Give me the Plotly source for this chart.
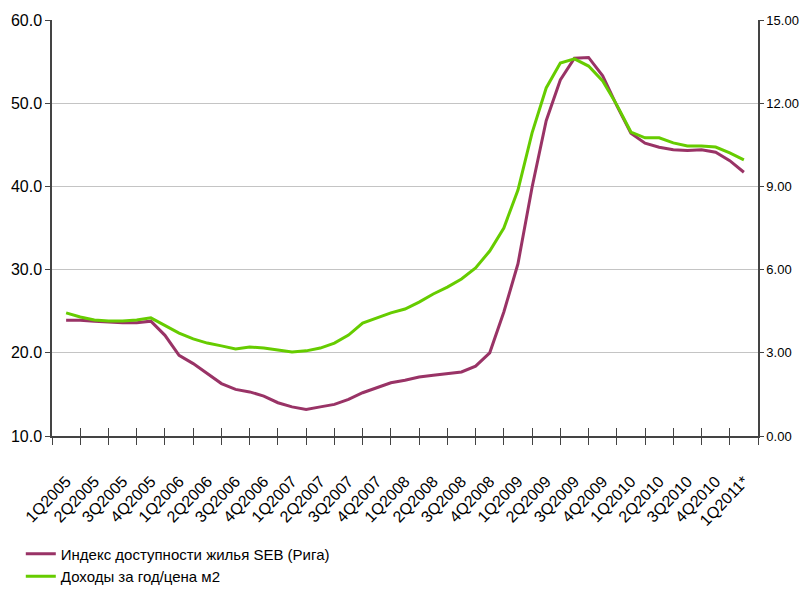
import plotly.graph_objects as go

quarters = ["1Q2005", "2Q2005", "3Q2005", "4Q2005", "1Q2006", "2Q2006", "3Q2006", "4Q2006",
            "1Q2007", "2Q2007", "3Q2007", "4Q2007", "1Q2008", "2Q2008", "3Q2008", "4Q2008",
            "1Q2009", "2Q2009", "3Q2009", "4Q2009", "1Q2010", "2Q2010", "3Q2010", "4Q2010",
            "1Q2011*"]

# readings every half quarter (0, 0.5, 1, ... 24 in category units)
index_seb = [23.9, 23.9, 23.8, 23.7, 23.6, 23.6, 23.8, 22.1, 19.7, 18.7,
             17.5, 16.3, 15.6, 15.3, 14.8, 14.0, 13.5, 13.2, 13.5, 13.8,
             14.4, 15.2, 15.8, 16.4, 16.7, 17.1, 17.3, 17.5, 17.7, 18.4,
             20.0, 24.9, 30.7, 39.9, 47.9, 52.8, 55.4, 55.5, 53.3, 49.7,
             46.4, 45.2, 44.7, 44.4, 44.3, 44.4, 44.1, 43.1, 41.7]

income_ratio = [4.44, 4.29, 4.18, 4.15, 4.15, 4.18, 4.26, 4.00, 3.71, 3.50,
                3.35, 3.25, 3.14, 3.21, 3.17, 3.10, 3.03, 3.07, 3.17, 3.35,
                3.64, 4.07, 4.26, 4.44, 4.58, 4.83, 5.12, 5.37, 5.66, 6.06,
                6.67, 7.50, 8.87, 10.93, 12.55, 13.45, 13.60, 13.34, 12.80, 11.94,
                10.96, 10.75, 10.75, 10.57, 10.46, 10.46, 10.42, 10.21, 9.96]

left_ticks = [10, 20, 30, 40, 50, 60]
right_ticks = [0, 3, 6, 9, 12, 15]

xpos = [i * 0.5 for i in range(len(index_seb))]
cat_pos = list(range(len(quarters)))
bounds = [i - 0.5 for i in range(len(quarters) + 1)]

name1 = "Индекс доступности жилья SEB (Рига)"
name2 = "Доходы за год/цена м2"

fig = go.Figure()
fig.add_trace(go.Scatter(x=xpos, y=index_seb, mode="lines", name=name1,
                         line=dict(color="#993366", width=3), yaxis="y"))
fig.add_trace(go.Scatter(x=xpos, y=income_ratio, mode="lines", name=name2,
                         line=dict(color="#66CC00", width=3), yaxis="y2"))
# helper trace to carry the inner tick marks axis
fig.add_trace(go.Scatter(x=[bounds[0]], y=[10], mode="lines", xaxis="x2", yaxis="y",
                         showlegend=False, hoverinfo="skip", line=dict(width=0)))

font_main = "Liberation Sans, Arial, sans-serif"
axis_col = "#444444"

fig.update_layout(
    width=800, height=592,
    margin=dict(l=52, r=42, t=20, b=156, autoexpand=False),
    paper_bgcolor="white", plot_bgcolor="white",
    font=dict(family=font_main, color="#000000", size=15),
    xaxis=dict(range=[-0.5, 24.5], tickvals=cat_pos, ticktext=quarters, tickangle=-46,
               ticks="", showgrid=False, zeroline=False, automargin=False,
               ticklabelstandoff=28,
               showline=True, linecolor=axis_col, linewidth=1.5,
               tickfont=dict(size=16, family=font_main),
               minor=dict(tickvals=bounds, ticks="outside", ticklen=7,
                          tickcolor=axis_col, tickwidth=1, showgrid=False)),
    xaxis2=dict(range=[-0.5, 24.5], overlaying="x", anchor="y", tickvals=bounds,
                ticks="inside", ticklen=8, tickcolor=axis_col, tickwidth=1, automargin=False,
                showticklabels=False, showgrid=False, zeroline=False, showline=False),
    yaxis=dict(range=[10, 60], tickvals=left_ticks, tickformat=".1f",
               ticks="outside", ticklen=5, tickcolor=axis_col, automargin=False,
               showgrid=True, gridcolor="#C4C4C4", gridwidth=1, zeroline=False,
               showline=True, linecolor=axis_col, linewidth=1.5,
               tickfont=dict(size=16, family=font_main)),
    yaxis2=dict(range=[0, 15], tickvals=right_ticks, tickformat=".2f",
                overlaying="y", side="right", anchor="x", automargin=False,
                ticks="outside", ticklen=4, tickcolor=axis_col,
                showgrid=False, zeroline=False,
                showline=True, linecolor=axis_col, linewidth=1.5,
                tickfont=dict(size=13, family=font_main)),
    legend=dict(xref="container", yref="container", x=0.026, y=0.092,
                xanchor="left", yanchor="top",
                orientation="v", bgcolor="rgba(0,0,0,0)",
                font=dict(size=15, family=font_main), itemwidth=30,
                tracegroupgap=0),
    showlegend=True,
)

fig.write_html("out.html")
